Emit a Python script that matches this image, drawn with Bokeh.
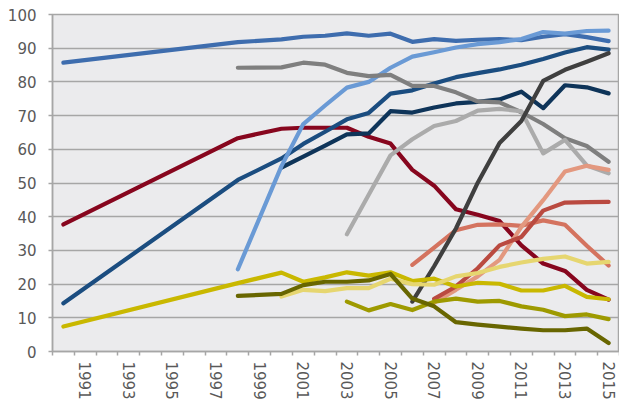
from bokeh.plotting import figure
from bokeh.models import Range1d, FixedTicker
from bokeh.embed import file_html
from bokeh.resources import INLINE

# ---- data ----
years = [1990, 1998, 2000, 2001, 2002, 2003, 2004, 2005, 2006, 2007,
         2008, 2009, 2010, 2011, 2012, 2013, 2014, 2015]

mid_blue = [85.7, 91.8, 92.6, 93.4, 93.7, 94.4, 93.7, 94.3, 91.9, 92.7,
            92.2, 92.5, 92.7, 92.4, 93.4, 94.2, 93.3, 92.1]
light_blue = [None, 24.4, 55.0, 67.5, 73.0, 78.3, 80.0, 84.2, 87.5, 88.8,
              90.2, 91.2, 91.8, 92.7, 94.8, 94.3, 95.1, 95.2]
gray = [None, 84.2, 84.3, 85.7, 85.1, 82.7, 81.7, 82.1, 78.8, 78.8,
        76.9, 74.2, 73.9, 71.0, 67.5, 63.3, 61.0, 56.3]
light_gray = [None, None, None, None, None, 34.8, 46.5, 58.2, 63.0, 66.9,
              68.4, 71.5, 72.0, 71.3, 58.8, 62.8, 55.2, 52.9]
dark_navy = [None, None, 54.6, 57.8, 61.1, 64.4, 64.7, 71.3, 70.9, 72.4,
             73.6, 74.1, 74.8, 77.1, 72.2, 79.0, 78.4, 76.6]
medium_navy = [14.3, 50.9, 57.3, 61.6, 65.2, 68.9, 70.8, 76.5, 77.5, 79.5,
               81.4, 82.6, 83.7, 85.1, 86.8, 88.7, 90.3, 89.6]
dark_red = [37.7, 63.3, 66.1, 66.4, 66.4, 66.4, 63.7, 61.7, 53.9, 49.2,
            42.2, 40.6, 38.7, 31.5, 26.1, 23.9, 18.3, 15.4]
charcoal = [None, None, None, None, None, None, None, None, 14.8, 25.3,
            36.5, 50.1, 61.9, 68.4, 80.3, 83.6, 86.0, 88.5]
salmon = [None, None, None, None, None, None, None, None, 25.7, 30.8,
          36.0, 37.6, 37.7, 37.3, 38.9, 37.6, 31.4, 25.5]
peach = [None, None, None, None, None, None, None, None, None, 14.5,
         18.3, 22.3, 27.2, 37.0, 44.9, 53.4, 55.1, 53.9]
red_brown = [None, None, None, None, None, None, None, None, None, 15.6,
             19.3, 24.7, 31.5, 34.0, 41.8, 44.2, 44.3, 44.4]
yellow = [7.4, 20.3, 23.4, 20.7, 22.0, 23.5, 22.5, 23.5, 20.9, 21.6,
          19.3, 20.4, 20.1, 18.1, 18.1, 19.5, 16.2, 15.5]
light_yellow = [None, None, 16.3, 18.3, 17.9, 18.8, 18.8, 21.6, 20.0, 19.8,
                22.3, 23.3, 25.1, 26.4, 27.5, 28.2, 26.1, 26.6]
olive = [None, None, None, None, None, 14.8, 12.2, 14.1, 12.3, 14.8,
         15.7, 14.8, 15.0, 13.4, 12.4, 10.5, 11.0, 9.6]
dark_olive = [None, 16.5, 17.1, 19.7, 20.7, 20.7, 21.1, 23.0, 15.7, 13.4,
              8.7, 8.0, 7.4, 6.8, 6.3, 6.3, 6.8, 2.5]

x_tick_years = [1991, 1993, 1995, 1997, 1999, 2001, 2003, 2005, 2007,
                2009, 2011, 2013, 2015]
x_tick_labels = ["1991", "1993", "1995", "1997", "1999", "2001", "2003",
                 "2005", "2007", "2009", "2011", "2013", "2015"]
y_ticks = [0, 10, 20, 30, 40, 50, 60, 70, 80, 90, 100]

series = [
    (dark_red, "#87061E"),
    (medium_navy, "#1B4D80"),
    (dark_navy, "#0E3459"),
    (mid_blue, "#3E6DAE"),
    (light_blue, "#6A9AD5"),
    (gray, "#7F7F7F"),
    (light_gray, "#ABABAB"),
    (salmon, "#D4735F"),
    (peach, "#E3987F"),
    (red_brown, "#BA4A40"),
    (charcoal, "#3F3F3F"),
    (yellow, "#C9B800"),
    (light_yellow, "#E6D670"),
    (olive, "#9E9A00"),
    (dark_olive, "#686600"),
]

p = figure(width=619, height=402, output_backend="svg", toolbar_location=None,
           x_range=Range1d(1989.5, 2015.5), y_range=Range1d(0, 100),
           min_border_left=52, min_border_right=0, min_border_top=14,
           min_border_bottom=40)
p.background_fill_color = "#EBEBED"
p.border_fill_color = "white"
p.outline_line_color = "#A6A6A6"
p.outline_line_width = 1.5

for vals, col in series:
    xs = [yr for yr, v in zip(years, vals) if v is not None]
    ys = [v for v in vals if v is not None]
    p.line(xs, ys, line_color=col, line_width=4.2, line_cap="round",
           line_join="round")

p.xgrid.grid_line_color = None
p.ygrid.grid_line_color = "#A6A6A6"
p.ygrid.grid_line_width = 1.5

xa = p.xaxis[0]
xa.ticker = FixedTicker(ticks=x_tick_years,
                        minor_ticks=[1989.5 + i for i in range(27)])
xa.major_label_overrides = {yr: lab for yr, lab in zip(x_tick_years, x_tick_labels)}
xa.major_label_orientation = "vertical"
xa.major_tick_out = 0
xa.major_tick_in = 0
xa.minor_tick_out = 4
xa.minor_tick_in = 0
xa.minor_tick_line_color = "#A6A6A6"
xa.minor_tick_line_width = 1.5
xa.axis_line_color = "#A6A6A6"
xa.axis_line_width = 1.5
xa.major_label_standoff = 6

ya = p.yaxis[0]
ya.ticker = FixedTicker(ticks=y_ticks)
ya.major_tick_out = 4
ya.major_tick_in = 0
ya.minor_tick_line_color = None
ya.major_tick_line_color = "#A6A6A6"
ya.major_tick_line_width = 1.5
ya.axis_line_color = "#A6A6A6"
ya.axis_line_width = 1.5
ya.major_label_standoff = 12

for ax in (xa, ya):
    ax.major_label_text_font = "DejaVu Sans"
    ax.major_label_text_font_size = "15px"
    ax.major_label_text_color = "#595959"

open("out.html", "w").write(file_html(p, INLINE))
